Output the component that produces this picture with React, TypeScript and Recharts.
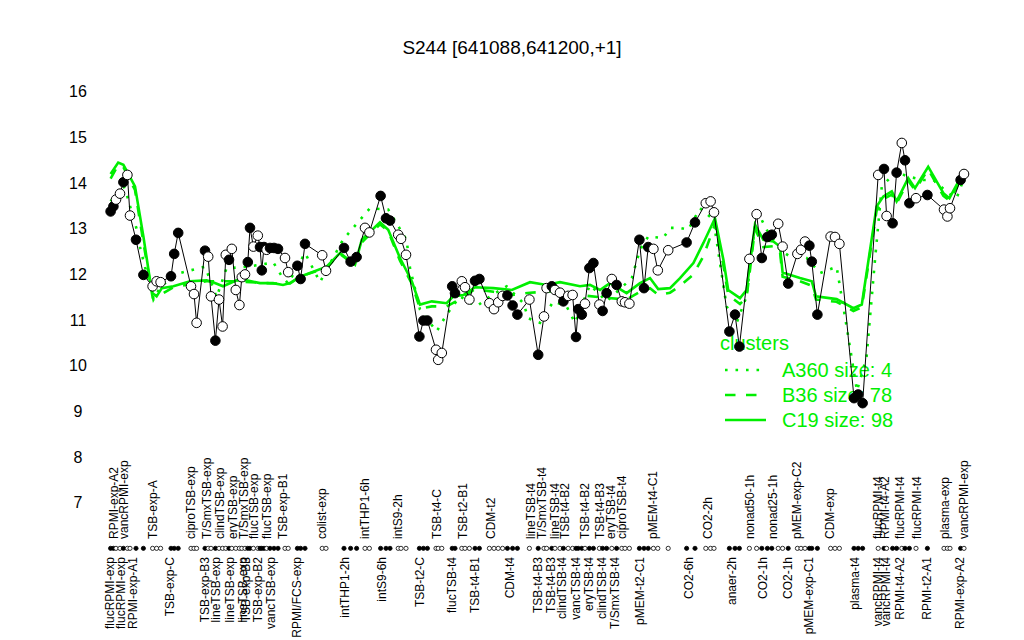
import { ComposedChart, Line, Scatter, XAxis, YAxis } from "recharts";

// Expression profile of S244 across conditions, with cluster mean profiles in green.
const FONT = "'Liberation Sans', Arial, Helvetica, sans-serif";
const GREEN = "#00ee00";

// Sample positions along the condition axis, their values and whether the dot is filled.
const POSITIONS = [
  3.9, 4.6, 5.25, 6.25, 7.1, 8.1, 8.75, 10.25, 12.1, 14.4, 15.4, 16.4, 19, 19.8, 20.8,
  24, 24.75, 25.4, 27.5, 28.3, 29, 30.1, 31, 31.9, 32.7, 33.5, 34.2, 35.2, 36.1, 36.7,
  37.5, 38.2, 38.75, 39.6, 40.7, 41.25, 41.7, 42.25, 42.9, 43.75, 44.75, 45.75, 47.5,
  48.3, 50.6, 51.4, 52.5, 56.8, 57.75, 62.25, 63.9, 65.4, 67.5, 68.6, 71.4, 72.75,
  73.75, 75.8, 76.5, 77.75, 81.1, 82.1, 83.1, 85.25, 85.8, 86.7, 89.3, 90, 91.7, 92.5,
  93.6, 95, 96.1, 98.6, 99.75, 100.8, 101.9, 103.1, 104.4, 105.6, 108.6, 110.8, 112.25,
  112.9, 114.2, 115, 116.25, 117.1, 118.3, 119.4, 120.25, 120.8, 121.7, 122.5, 123.6,
  124.6, 126.1, 126.9, 127.9, 129.2, 130.4, 131.7, 132.5, 133.6, 136.1, 137.25, 138.3,
  139.6, 140.7, 143.3, 147.9, 150, 152.7, 153.9, 154.75, 158.6, 160, 161.1, 163.6,
  165.4, 166.7, 168.1, 169.2, 170.8, 171.9, 173.3, 175.6, 176.5, 177.5, 178.6, 179.2,
  180.6, 183.9, 185, 186.1, 189.75, 190.8, 191.9, 195.8, 197.25, 197.9, 199.4, 200.4,
  201.7, 202.5, 203.6, 205.25, 208.1, 212.25, 213.1, 213.75, 216.4, 217.25,
];
const VALUES = [
  13.38, 13.49, 13.64, 13.77, 14.02, 14.18, 13.29, 12.76, 11.99, 11.74, 11.85, 11.83, 11.96, 12.45, 12.91,
  11.74, 11.57, 10.94, 12.52, 12.39, 11.52, 10.55, 11.45, 10.86, 12.43, 12.32, 12.56, 11.66, 11.33, 11.94,
  12.0, 12.27, 13.02, 12.61, 12.85, 12.6, 12.09, 12.6, 12.54, 12.58, 12.58, 12.56, 12.36,
  12.05, 12.19, 11.9, 12.67, 12.42, 12.08, 12.58, 12.28, 12.38, 13.02, 12.92, 13.72, 13.23,
  13.18, 12.87, 12.78, 12.43, 10.64, 10.99, 10.99, 10.35, 10.13, 10.28, 11.74, 11.59, 11.85, 11.72,
  11.45, 11.86, 11.9, 11.37, 11.24, 11.39, 11.53, 11.54, 11.32, 11.12, 11.45, 10.24, 11.08,
  11.7, 11.74, 11.66, 11.6, 11.41, 11.53, 11.55, 10.63, 11.24, 11.12, 11.36, 12.14,
  12.25, 11.34, 11.2, 11.59, 11.9, 11.77, 11.41, 11.39, 11.36, 12.76, 11.7, 12.6,
  12.56, 12.09, 12.53, 12.7, 13.14, 13.56, 13.6, 13.36, 10.75, 11.12, 10.42, 12.34,
  13.32, 12.36, 12.82, 12.87, 13.11, 12.61, 11.8, 12.45, 12.54, 12.72, 12.63, 12.28,
  11.12, 12.83, 12.82, 12.67, 9.29, 9.37, 9.18, 14.18, 14.31, 13.28, 13.12, 14.23,
  14.88, 14.5, 13.56, 13.67, 13.74, 13.42, 13.27, 13.45, 14.07, 14.2,
];
const FILLED = [
  1, 1, 0, 0, 1, 0, 0, 1, 1, 0, 0, 0, 1, 1, 1,
  0, 0, 0, 1, 0, 0, 1, 0, 0, 0, 1, 0, 0, 0, 0,
  0, 1, 1, 0, 0, 1, 1, 1, 0, 1, 1, 1, 0,
  0, 1, 1, 1, 0, 0, 1, 1, 1, 0, 0, 1, 1,
  1, 0, 0, 0, 1, 1, 1, 0, 0, 0, 1, 1, 0, 0,
  0, 1, 1, 0, 0, 0, 0, 1, 1, 1, 0, 1, 0,
  0, 1, 0, 0, 1, 0, 0, 1, 1, 1, 0, 1,
  1, 0, 1, 1, 0, 1, 0, 0, 0, 1, 1, 1,
  0, 0, 0, 1, 1, 0, 0, 0, 1, 1, 1, 0,
  0, 1, 1, 1, 0, 0, 1, 0, 0, 0, 1, 1,
  1, 0, 0, 0, 1, 1, 1, 0, 1, 0, 1, 1,
  0, 1, 1, 0, 1, 0, 0, 0, 1, 0,
];
const RUG_LEVEL = 6;

// Cluster profiles.
const C19_POS = [
  3.9, 5.8, 7.1, 10, 12.1, 13.75, 14.4, 15.4, 16.7, 19.6, 23.75, 27.9, 29.5, 32, 35.4, 37.9,
  41.25, 44.5, 47, 48.75, 51.25, 57.9, 61.25, 65, 66.7, 71.25, 73.3, 76.25, 79.2, 81.25,
  84.2, 87.9, 89.6, 92.1, 95, 99.6, 104.2, 108.75, 112.9, 116.25, 121.25, 123.75, 126.25,
  128.75, 132.9, 136.25, 138.75, 140.8, 143.75, 146.25, 149.6, 152.1, 155, 157.1, 158.3,
  161.25, 162.9, 165, 167.1, 169.6, 171.25, 171.9, 176.25, 179.2, 180.25, 185.4, 189.6,
  191.7, 195.4, 197.1, 199.2, 200.4, 203.3, 205, 208.3, 212.1, 213.6, 215.4, 217.1,
];
const C19_VAL = [
  14.2, 14.45, 14.4, 13.93, 12.83, 11.88, 11.59, 11.52, 11.7, 11.74, 11.85, 11.87, 11.83, 11.74, 11.87, 11.87,
  11.81, 11.81, 11.77, 11.81, 11.95, 12.17, 12.47, 12.21, 12.76, 13.14, 12.98, 12.36, 11.85, 11.34,
  11.41, 11.37, 11.52, 11.55, 11.72, 11.7, 11.66, 11.83, 11.77, 11.83, 11.74, 11.77, 11.66,
  11.81, 11.59, 11.81, 11.92, 11.68, 11.7, 11.92, 12.25, 12.69, 13.23, 12.32, 11.66,
  11.48, 11.66, 13.09, 12.76, 12.72, 12.61, 12.04, 11.92, 11.85, 11.52, 11.46, 11.26,
  11.34, 13.49, 13.71, 13.82, 13.6, 14.11, 13.89, 14.36, 13.78, 13.67, 13.96, 14.29,
];
const B36_POS = [
  3.9, 5.8, 7.1, 10, 12.1, 14.4, 15.4, 19.6, 27.9, 35.4, 44.5, 48.75, 51.25, 57.9, 61.25,
  65, 66.7, 71.25, 73.3, 76.25, 79.2, 81.25, 84.2, 87.9, 92.1, 95, 99.6, 104.2, 108.75,
  112.9, 116.25, 121.25, 126.25, 132.9, 136.25, 138.75, 140.8, 143.75, 146.25, 149.6,
  152.1, 155, 157.1, 158.3, 161.25, 162.9, 165, 167.1, 169.6, 171.25, 171.9, 176.25,
  179.2, 180.25, 185.4, 189.6, 191.7, 195.4, 197.1, 199.2, 200.4, 203.3, 205, 208.3,
  212.1, 213.6, 215.4, 217.1,
];
const B36_VAL = [
  14.1, 14.4, 14.35, 13.85, 12.7, 11.5, 11.5, 11.72, 11.85, 11.85, 11.8, 11.8, 11.95, 12.15, 12.45,
  12.2, 12.7, 13.1, 12.95, 12.3, 11.8, 11.25, 11.3, 11.3, 11.5, 11.68, 11.62, 11.55, 11.6,
  11.62, 11.65, 11.55, 11.5, 11.45, 11.62, 11.7, 11.55, 11.6, 11.75, 12.0,
  12.4, 13.1, 12.2, 11.55, 11.35, 11.5, 13.0, 12.6, 12.62, 12.5, 11.95, 11.85,
  11.75, 11.45, 11.4, 11.2, 11.28, 13.4, 13.65, 13.75, 13.55, 14.05, 13.85, 14.3,
  13.72, 13.62, 13.9, 14.25,
];
const A360_POS = [
  3.9, 7.1, 8.1, 9, 10.4, 11.25, 12.1, 14.6, 16.5, 21.25, 27.5, 29.6, 30.4, 32.9, 34, 37.9,
  40.4, 44.6, 46.7, 48.3, 52.5, 56.25, 62, 68.75, 73.3, 77.9, 78.75, 81.25, 85.4, 87.9,
  91.25, 95.4, 98.75, 102.9, 107.1, 108.3, 111.25, 114.6, 117.9, 120, 123.75, 127.9,
  134.2, 136.25, 138.3, 142.1, 143.75, 146.25, 148.3, 151.25, 154.6, 157.9, 160.4,
  162.9, 165.4, 167.9, 171.25, 173.75, 177.9, 181.25, 185.4, 187.9, 190.5, 192.9, 195,
  196.7, 200.4, 202.9, 207.1, 209.6, 213.3, 215.4, 217.1,
];
const A360_VAL = [
  13.6, 13.95, 13.7, 13.42, 13.0, 12.6, 12.3, 11.45, 11.75, 12.03, 12.17, 11.7, 11.5, 12.14, 12.14, 12.17,
  12.2, 12.26, 11.96, 11.8, 12.47, 11.83, 12.76, 13.45, 13.42, 12.76, 12.14, 11.23, 10.75, 11.12,
  11.52, 11.3, 11.52, 11.74, 11.37, 11.04, 10.94, 11.41, 11.3, 10.94, 11.77, 11.41,
  11.92, 12.54, 12.83, 12.8, 13.02, 13.02, 12.98, 13.45, 13.2, 11.3, 10.94,
  11.52, 13.42, 12.98, 12.54, 12.39, 12.36, 12.03, 12.17, 10.86, 9.45, 10.2, 12.32,
  13.93, 14.26, 14.15, 14.07, 14.07, 13.78, 13.67, 14.07,
];

// Condition labels, two staggered rows.
const UPPER_NAMES = [
  "RPMI-exp-A2", "vancRPMI-exp", "TSB-exp-A", "ciproTSB-exp", "T/SmxTSB-exp", "clindTSB-exp",
  "eryTSB-exp", "T/SmxTSB-exp", "flucTSB-exp", "flucTSB-exp", "TSB-exp-B1", "colist-exp",
  "intTHP1-6h", "intS9-2h", "TSB-t4-C", "TSB-t2-B1", "CDM-t2", "lineTSB-t4", "T/SmxTSB-t4",
  "lineTSB-t4", "TSB-t4-B2", "TSB-t4-B2", "TSB-t4-B3", "eryTSB-t4", "ciproTSB-t4",
  "pMEM-t4-C1", "CO2-2h", "nonad50-1h", "nonad25-1h", "pMEM-exp-C2", "CDM-exp",
  "flucRPMI-t4", "RPMI-t4-A2", "flucRPMI-t4", "flucRPMI-t4", "plasma-exp", "vancRPMI-exp",
];
const UPPER_POS = [
  4.75, 7.25, 14.5, 24, 28, 31.25, 34.5, 37.25, 39.75, 43, 47, 56.75, 67.5, 75.75, 85.5, 92,
  99, 109, 111.75, 115, 117.5, 122.5, 126.25, 129, 131.75, 139.5, 153.25, 163.75, 169.5,
  175.5, 183.75, 195.75, 197.5, 201.25, 205.5, 212.5, 217.25,
];
const LOWER_NAMES = [
  "flucRPMI-exp", "flucRPMI-exp", "RPMI-exp-A1", "TSB-exp-C", "TSB-exp-B3", "lineTSB-exp",
  "lineTSB-exp", "lineTSB-exp", "TSB-exp-B3", "TSB-exp-B2", "vancTSB-exp", "RPMI/FCS-exp",
  "intTHP1-2h", "intS9-6h", "TSB-t2-C", "flucTSB-t4", "TSB-t4-B1", "CDM-t4", "TSB-t4-B3",
  "TSB-t4-B3", "clindTSB-t4", "vancTSB-t4", "eryTSB-t4", "clindTSB-t4", "T/SmxTSB-t4",
  "pMEM-t2-C1", "CO2-6h", "anaer-2h", "CO2-1h", "CO2-1h", "pMEM-exp-C1", "plasma-t4",
  "vancRPMI-t4", "vancRPMI-t4", "RPMI-t4-A2", "RPMI-t2-A1", "RPMI-exp-A2",
];
const LOWER_POS = [
  3.75, 6.5, 9.5, 18.75, 27.5, 30.25, 33.75, 37, 37.75, 40.75, 44, 50.5, 62.5, 71.75, 81.25,
  89.25, 95, 103.75, 110.75, 114, 116.75, 120.25, 123.5, 126.75, 130, 136.25, 148.5, 159.25,
  167, 173.25, 178.5, 190, 195.75, 197.75, 201.25, 208, 216.25,
];
const Y_TICKS = [7, 8, 9, 10, 11, 12, 13, 14, 15, 16];

const LEGEND = [
  { label: "A360 size: 4", dash: "2.6 7.9" },
  { label: "B36 size: 78", dash: "10.5 10.5" },
  { label: "C19 size: 98", dash: undefined },
];

// Labels sit just above (upper row) or below (lower row) the rug of sample dots.
function UpperTick(props: any) {
  const { x, index } = props;
  return (
    <text transform={`translate(${x},539) rotate(-90)`} textAnchor="start" dy="0.35em"
      fontSize={12} fontFamily={FONT} fill="#000">
      {UPPER_NAMES[index]}
    </text>
  );
}

function LowerTick(props: any) {
  const { x, index } = props;
  return (
    <text transform={`translate(${x},557) rotate(-90)`} textAnchor="end" dy="0.35em"
      fontSize={12} fontFamily={FONT} fill="#000">
      {LOWER_NAMES[index]}
    </text>
  );
}

function ValueTick(props: any) {
  const { x, y, payload } = props;
  return (
    <text x={x - 17} y={y} dy="0.35em" textAnchor="middle" fontSize={16} fontFamily={FONT} fill="#000">
      {payload.value}
    </text>
  );
}

export default function App() {
  const points = POSITIONS.map((x, i) => ({ x, y: VALUES[i], filled: FILLED[i] === 1 }));
  const rug = points.map((p) => ({ ...p, y: RUG_LEVEL }));
  const c19 = C19_POS.map((x, i) => ({ x, y: C19_VAL[i] }));
  const b36 = B36_POS.map((x, i) => ({ x, y: B36_VAL[i] }));
  const a360 = A360_POS.map((x, i) => ({ x, y: A360_VAL[i] }));

  return (
    <div style={{ position: "absolute", left: 0, top: 0, width: 1024, height: 640, background: "#fff" }}>
      <svg width={1024} height={640} style={{ position: "absolute", left: 0, top: 0 }}>
        <text x={512} y={54} textAnchor="middle" fontSize={19} fontFamily={FONT} fill="#000">
          S244 [641088,641200,+1]
        </text>
        <text x={720} y={350} fontSize={20} fontFamily={FONT} fill={GREEN}>clusters</text>
        {LEGEND.map((l, i) => (
          <g key={l.label}>
            <line x1={725} x2={766} y1={370 + i * 25} y2={370 + i * 25} stroke={GREEN}
              strokeWidth={2.6} strokeDasharray={l.dash} />
            <text x={782} y={377 + i * 25} fontSize={20} fontFamily={FONT} fill={GREEN}>{l.label}</text>
          </g>
        ))}
      </svg>
      <div style={{ position: "absolute", left: 0, top: 0 }}>
        <ComposedChart width={1024} height={640} margin={{ top: 69, right: 49, bottom: 6, left: 55 }}>
          <XAxis xAxisId={0} type="number" dataKey="x" domain={[0, 220]} allowDataOverflow
            ticks={UPPER_POS} interval={0} tick={(p: any) => <UpperTick {...p} />}
            tickLine={false} axisLine={false} tickSize={0} tickMargin={0} height={20} />
          <XAxis xAxisId="low" type="number" dataKey="x" domain={[0, 220]} allowDataOverflow
            ticks={LOWER_POS} interval={0} tick={(p: any) => <LowerTick {...p} />}
            tickLine={false} axisLine={false} tickSize={0} tickMargin={0} height={20} />
          <YAxis type="number" dataKey="y" domain={[5, 16.5]} allowDataOverflow ticks={Y_TICKS}
            interval={0} tick={(p: any) => <ValueTick {...p} />} tickLine={false} axisLine={false}
            tickSize={0} tickMargin={0} width={40} />
          <Line data={a360} dataKey="y" stroke={GREEN} strokeWidth={2.6} strokeDasharray="2.6 7.9"
            dot={false} isAnimationActive={false} />
          <Line data={b36} dataKey="y" stroke={GREEN} strokeWidth={2.6} strokeDasharray="10.5 10.5"
            dot={false} isAnimationActive={false} />
          <Line data={c19} dataKey="y" stroke={GREEN} strokeWidth={2.6} dot={false} isAnimationActive={false} />
          <Line data={points} dataKey="y" stroke="#000" strokeWidth={1} dot={false} isAnimationActive={false} />
          <Scatter data={points} isAnimationActive={false}
            shape={(p: any) => (
              <circle cx={p.cx} cy={p.cy} r={4.8} fill={p.payload.filled ? "#000" : "#fff"}
                stroke="#000" strokeWidth={1} />
            )} />
          <Scatter data={rug} isAnimationActive={false}
            shape={(p: any) => (
              <circle cx={p.cx} cy={p.cy} r={2.1} fill={p.payload.filled ? "#000" : "#fff"}
                stroke="#000" strokeWidth={0.8} />
            )} />
        </ComposedChart>
      </div>
    </div>
  );
}
